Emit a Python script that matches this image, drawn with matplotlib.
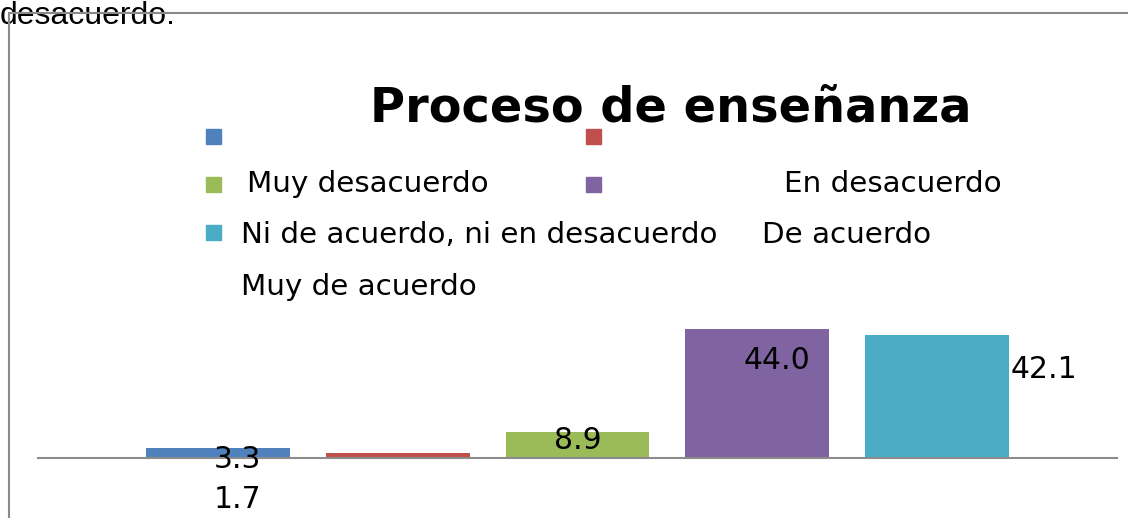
import matplotlib
matplotlib.use('Agg')
import matplotlib.pyplot as plt
from matplotlib.patches import Rectangle

# datos del grafico
categorias = ['Muy desacuerdo', 'En desacuerdo', 'Ni de acuerdo, ni en desacuerdo',
              'De acuerdo', 'Muy de acuerdo']
porcentajes = [3.3, 1.7, 8.9, 44.0, 42.1]
colores = ['#4F81BD', '#C0504D', '#9BBB59', '#8064A2', '#4BACC6']
titulo = 'Proceso de enseñanza'

W, H = 1128, 518
fig = plt.figure(figsize=(W / 100, H / 100), dpi=100)

def caja(x0, y0, x1, y1):
    # pixeles (origen arriba-izquierda) -> fraccion de figura
    return [x0 / W, 1 - y1 / H, (x1 - x0) / W, (y1 - y0) / H]

# ---- barras ----
ax = fig.add_axes(caja(38, 311.4, 1117, 458))
pos = range(len(porcentajes))
ax.bar(pos, porcentajes, width=0.8, color=colores)
ax.set_xlim(-1, 5)
ax.set_ylim(0, 50)
for s in ['top', 'left', 'right']:
    ax.spines[s].set_visible(False)
ax.spines['bottom'].set_color('#8c8c8c')
ax.spines['bottom'].set_linewidth(1.5)
ax.set_xticks([])
ax.set_yticks([])
ax.patch.set_alpha(0)

# etiquetas de datos (desplazadas como en el original)
desplaz = [(20, -11), (-160, -46), (0, -9), (20, -32), (106.5, -35)]
for i, v in enumerate(porcentajes):
    ax.annotate('%.1f' % v, xy=(i, v), xytext=desplaz[i], textcoords='offset pixels',
                ha='center', va='center', fontsize=21.5, color='black',
                annotation_clip=False)

# ---- capa en pixeles para marco, titulo y leyenda ----
ov = fig.add_axes([0, 0, 1, 1])
ov.set_xlim(0, W)
ov.set_ylim(H, 0)
ov.axis('off')
ov.patch.set_alpha(0)

ov.text(0, 24, 'desacuerdo.', family='Liberation Sans', fontsize=23,
        ha='left', va='baseline', zorder=1)
ov.plot([10, W], [13, 13], color='#8a8a8a', lw=1.5, zorder=2)
ov.plot([9, 9], [13, H], color='#8a8a8a', lw=1.5, zorder=2)

ov.text(671, 122, titulo, fontsize=34.5, fontweight='bold', ha='center', va='baseline')

# leyenda (descuadrada: marcadores una fila arriba de los textos)
marca_x = [206, 586]
fila_y = [129, 177, 225]
for i, c in enumerate(colores):
    r, k = divmod(i, 2)
    ov.add_patch(Rectangle((marca_x[k], fila_y[r]), 15, 14.5, color=c))

etiqueta_pos = [(247, 192), (784, 192), (241, 243), (762, 243), (241, 295)]
for i, nombre in enumerate(categorias):
    ov.text(etiqueta_pos[i][0], etiqueta_pos[i][1], nombre, fontsize=21.2,
            ha='left', va='baseline')

fig.savefig('out.png', dpi=100)
